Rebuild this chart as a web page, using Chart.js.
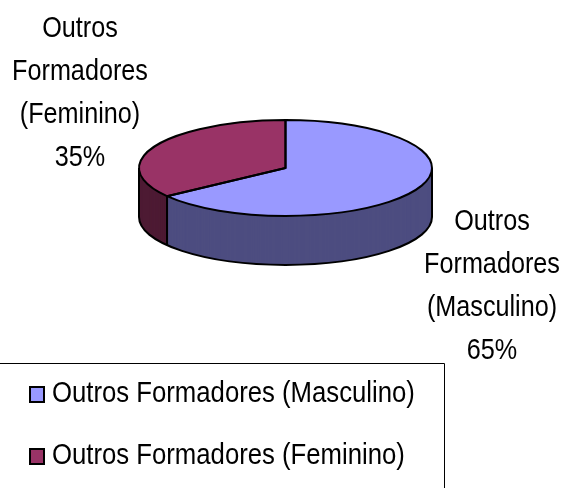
<!DOCTYPE html>
<html><head><meta charset="utf-8">
<style>html,body{margin:0;padding:0;background:#fff}#w{position:relative;width:561px;height:488px}canvas{display:block}</style>
<script src="https://cdn.jsdelivr.net/npm/chart.js@4"></script></head>
<body><div id="w"><canvas id="c" width="561" height="488"></canvas></div>
<script>
const categories = ["Outros Formadores (Masculino)", "Outros Formadores (Feminino)"];
const values = [65, 35];
const topColors = ["#9999ff", "#993366"];
const sideColors = ["#4d4d80", "#4d1a33"];
const calloutMasc = ["Outros", "Formadores", "(Masculino)", "65%"];
const calloutFem = ["Outros", "Formadores", "(Feminino)", "35%"];

const TILT = 0.327, DEPTH = 49, CY = 168;
const FONT = '30px "Liberation Sans", sans-serif';

function ellipsePath(ctx, a, y, start, end) {
  ctx.save();
  ctx.translate(a.x, y);
  ctx.scale(1, TILT);
  ctx.arc(0, 0, a.outerRadius, start, end);
  ctx.restore();
}
function squeezedText(ctx, t, x, y, sx) {
  ctx.save();
  ctx.translate(x, y);
  ctx.scale(sx, 1);
  ctx.fillText(t, 0, 0);
  ctx.restore();
}
const pie3d = {
  id: 'pie3d',
  beforeDatasetsDraw(chart) {
    const ctx = chart.ctx, arcs = chart.getDatasetMeta(0).data;
    ctx.save();
    for (let d = DEPTH; d >= 0; d--) {
      arcs.forEach((a, i) => {
        ctx.fillStyle = sideColors[i];
        ctx.beginPath();
        ctx.moveTo(a.x, CY + d);
        ellipsePath(ctx, a, CY + d, a.startAngle, a.endAngle);
        ctx.closePath();
        ctx.fill();
      });
    }
    ctx.restore();
    const a0 = arcs[0], R = a0.outerRadius;
    ctx.save();
    ctx.strokeStyle = '#000'; ctx.lineWidth = 2;
    ctx.beginPath();
    ellipsePath(ctx, a0, CY + DEPTH, 0, Math.PI);
    ctx.stroke();
    [0, Math.PI, a0.endAngle].forEach(t => {
      const x = a0.x + R * Math.cos(t), y = CY + R * TILT * Math.sin(t);
      ctx.beginPath(); ctx.moveTo(x, y); ctx.lineTo(x, y + DEPTH); ctx.stroke();
    });
    ctx.restore();
    ctx.save();
    ctx.translate(a0.x, CY);
    ctx.scale(1, TILT);
    ctx.translate(-a0.x, -a0.y);
  },
  afterDatasetsDraw(chart) {
    const ctx = chart.ctx, arcs = chart.getDatasetMeta(0).data;
    ctx.restore();
    ctx.save();
    ctx.strokeStyle = '#000'; ctx.lineWidth = 2; ctx.lineJoin = 'round';
    arcs.forEach(a => {
      ctx.beginPath();
      ctx.moveTo(a.x, CY);
      ellipsePath(ctx, a, CY, a.startAngle, a.endAngle);
      ctx.closePath();
      ctx.stroke();
    });
    ctx.restore();
    ctx.save();
    ctx.fillStyle = '#000'; ctx.font = FONT;
    ctx.textAlign = 'center'; ctx.textBaseline = 'middle';
    calloutFem.forEach((t, i) => squeezedText(ctx, t, 80, 29 + i * 43, 0.84));
    calloutMasc.forEach((t, i) => squeezedText(ctx, t, 492, 222 + i * 43, 0.84));
    ctx.strokeStyle = '#000'; ctx.lineWidth = 1;
    ctx.beginPath(); ctx.moveTo(0, 363.5); ctx.lineTo(444.5, 363.5); ctx.lineTo(444.5, 488); ctx.stroke();
    ctx.textAlign = 'left';
    categories.forEach((t, i) => {
      const y = 394 + i * 62;
      ctx.fillStyle = topColors[i];
      ctx.lineWidth = 2;
      ctx.fillRect(30, y - 7, 14, 15);
      ctx.strokeRect(30, y - 7, 14, 15);
      ctx.fillStyle = '#000';
      squeezedText(ctx, t, 52, y, 0.857);
    });
    ctx.restore();
  }
};
new Chart(document.getElementById('c'), {
  type: 'pie',
  data: { labels: categories, datasets: [{ data: values, backgroundColor: topColors, borderWidth: 0, clip: false }] },
  options: {
    responsive: false, animation: false,
    layout: { padding: { left: 139, right: 129, top: 0, bottom: 194 } },
    plugins: { legend: { display: false }, tooltip: { enabled: false }, title: { display: false } }
  },
  plugins: [pie3d]
});
</script></body></html>
